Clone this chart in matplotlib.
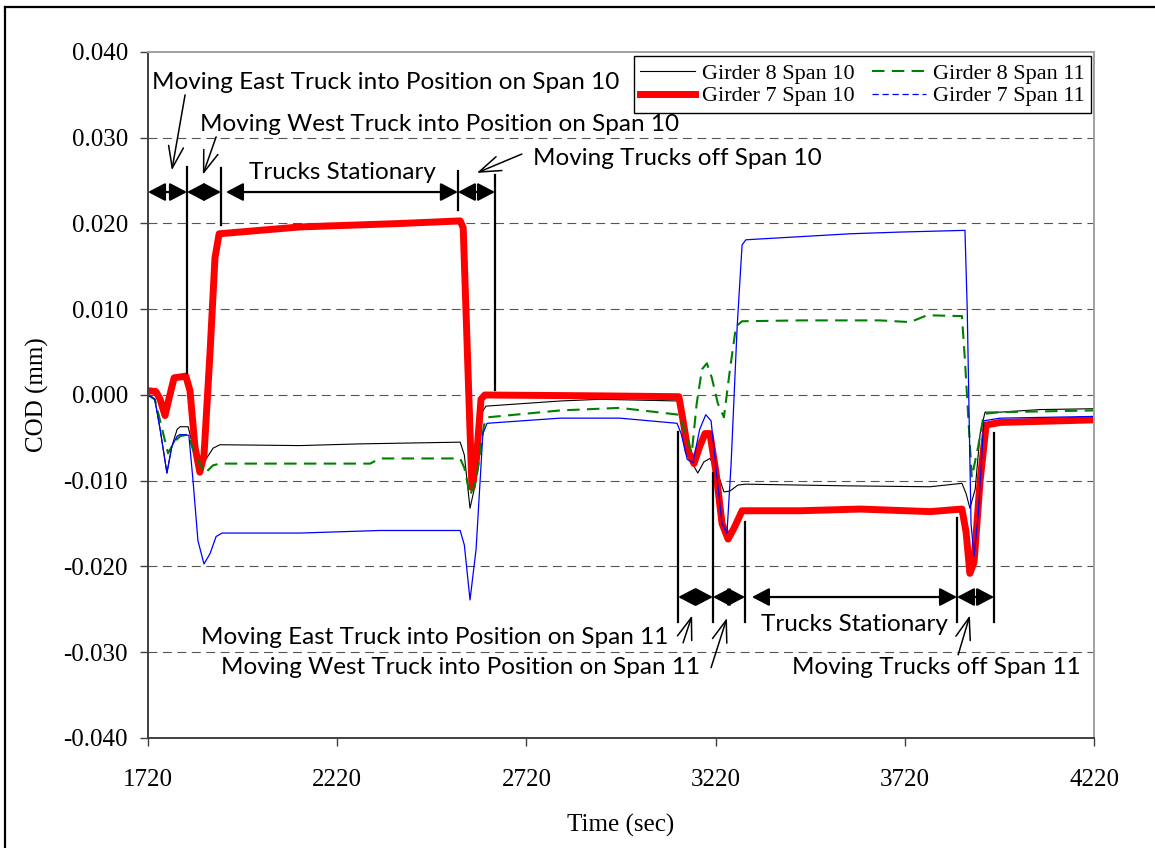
import matplotlib
matplotlib.use("Agg")
import matplotlib.pyplot as plt
from matplotlib.lines import Line2D

# ---------------- data ----------------
t_g7s10 = [1720, 1741, 1752, 1765, 1775, 1789, 1820, 1831, 1844, 1857, 1868, 1884, 1897, 1908,
           2122, 2386, 2545, 2553, 2564, 2576, 2587, 2600, 2610, 2915, 3123, 3134, 3147, 3163,
           3178, 3192, 3205, 3221, 3237, 3253, 3269, 3290, 3443, 3602, 3787, 3871, 3882, 3892,
           3903, 3919, 3935, 3972, 4220]
y_g7s10 = [0.0005, 0.0004, -0.0005, -0.0024, -0.0005, 0.0020, 0.0022, 0.0005, -0.0060, -0.0090,
           -0.0070, 0.0050, 0.0160, 0.0188, 0.0196, 0.0200, 0.0203, 0.0195, 0.0050, -0.0108,
           -0.0080, -0.0005, 0.0000, -0.0001, -0.0002, -0.0030, -0.0065, -0.0080, -0.0060,
           -0.0045, -0.0045, -0.0090, -0.0150, -0.0168, -0.0155, -0.0135, -0.0135, -0.0133,
           -0.0136, -0.0133, -0.0160, -0.0208, -0.0195, -0.0100, -0.0035, -0.0032, -0.0029]

t_g8s10 = [1720, 1738, 1752, 1770, 1783, 1797, 1805, 1826, 1836, 1850, 1860, 1873, 1892, 1910,
           2122, 2280, 2545, 2556, 2571, 2587, 2603, 2613, 2809, 2915, 3123, 3137, 3152, 3173,
           3189, 3205, 3221, 3242, 3258, 3279, 3300, 3575, 3787, 3871, 3882, 3892, 3906, 3919,
           3932, 3972, 4077, 4220]
y_g8s10 = [0.0001, -0.0005, -0.0040, -0.0091, -0.0060, -0.0040, -0.0037, -0.0037, -0.0055,
           -0.0082, -0.0088, -0.0075, -0.0062, -0.0058, -0.0059, -0.0057, -0.0055, -0.0070,
           -0.0132, -0.0100, -0.0020, -0.0013, -0.0007, -0.0005, -0.0007, -0.0030, -0.0075,
           -0.0091, -0.0078, -0.0074, -0.0085, -0.0113, -0.0112, -0.0105, -0.0104, -0.0106,
           -0.0107, -0.0103, -0.0115, -0.0132, -0.0110, -0.0045, -0.0020, -0.0020, -0.0017,
           -0.0016]

t_g8s11 = [1720, 1738, 1752, 1773, 1789, 1805, 1826, 1844, 1871, 1892, 1910, 2122, 2307, 2333,
           2545, 2556, 2571, 2587, 2608, 2618, 2809, 2967, 3123, 3137, 3157, 3170, 3184, 3197,
           3210, 3226, 3242, 3258, 3274, 3290, 3443, 3655, 3734, 3779, 3871, 3879, 3897, 3914,
           3929, 3972, 4220]
y_g8s11 = [0.0000, -0.0005, -0.0030, -0.0068, -0.0055, -0.0048, -0.0046, -0.0070, -0.0091,
           -0.0082, -0.0080, -0.0080, -0.0080, -0.0074, -0.0074, -0.0085, -0.0117, -0.0100,
           -0.0035, -0.0026, -0.0018, -0.0015, -0.0023, -0.0040, -0.0068, -0.0010, 0.0030,
           0.0037, 0.0020, -0.0010, -0.0026, 0.0030, 0.0080, 0.0086, 0.0087, 0.0087, 0.0085,
           0.0093, 0.0092, 0.0040, -0.0096, -0.0060, -0.0022, -0.0020, -0.0018]

t_g7s11 = [1720, 1738, 1752, 1770, 1783, 1797, 1805, 1828, 1839, 1852, 1868, 1884, 1900, 1916,
           2122, 2333, 2545, 2556, 2571, 2587, 2605, 2616, 2809, 2967, 3118, 3129, 3145, 3160,
           3178, 3194, 3208, 3221, 3237, 3250, 3261, 3277, 3290, 3300, 3575, 3707, 3879, 3885,
           3895, 3903, 3914, 3929, 3972, 4220]
y_g7s11 = [0.0000, -0.0005, -0.0040, -0.0091, -0.0060, -0.0048, -0.0046, -0.0047, -0.0100,
           -0.0170, -0.0197, -0.0185, -0.0165, -0.0161, -0.0161, -0.0158, -0.0158, -0.0175,
           -0.0239, -0.0180, -0.0045, -0.0033, -0.0027, -0.0027, -0.0033, -0.0045, -0.0075,
           -0.0079, -0.0040, -0.0023, -0.0030, -0.0085, -0.0150, -0.0161, -0.0080, 0.0080,
           0.0175, 0.0181, 0.0188, 0.0190, 0.0192, 0.0100, -0.0150, -0.0188, -0.0140, -0.0030,
           -0.0027, -0.0025]

labels = ["Girder 8 Span 10", "Girder 7 Span 10", "Girder 8 Span 11", "Girder 7 Span 11"]
x_ticks = [1720, 2220, 2720, 3220, 3720, 4220]
y_ticks = [-0.040, -0.030, -0.020, -0.010, 0.000, 0.010, 0.020, 0.030, 0.040]

# ---------------- figure ----------------
fig = plt.figure(figsize=(11.55, 8.48), dpi=100)
ax = fig.add_axes([148 / 1155, 1 - 738 / 848, (1094 - 148) / 1155, (738 - 52) / 848])

serif = "Liberation Serif"
sans = "Lato"

ax.plot(t_g8s10, y_g8s10, color="black", lw=0.8)
ax.plot(t_g7s10, y_g7s10, color="#ff0000", lw=5.0, solid_joinstyle="round")
ax.plot(t_g8s11, y_g8s11, color="#008000", lw=1.5, linestyle=(0, (6, 3.5)))
ax.plot(t_g7s11, y_g7s11, color="#0000ff", lw=0.9)

ax.set_xlim(x_ticks[0], x_ticks[-1])
ax.set_ylim(y_ticks[0], y_ticks[-1])
ax.set_xticks(x_ticks)
ax.set_yticks(y_ticks)
ax.set_xticklabels([str(v) for v in x_ticks], fontfamily=serif, fontsize=18)
ax.set_yticklabels(["%.3f" % v for v in y_ticks], fontfamily=serif, fontsize=18)
ax.tick_params(axis="both", direction="out", length=5.5, width=1.0, color="#404040")
ax.tick_params(axis="y", pad=9)
ax.tick_params(axis="x", pad=17)

for yv in y_ticks[1:-1]:
    ax.axhline(yv, color="#555555", lw=0.8, linestyle=(0, (8, 5)), zorder=0.5)

for s in ["left", "bottom"]:
    ax.spines[s].set_color("#404040")
    ax.spines[s].set_linewidth(1.4)
for s in ["top", "right"]:
    ax.spines[s].set_color("#a0a0a0")
    ax.spines[s].set_linewidth(1.4)

ax.set_xlabel("Time (sec)", fontfamily=serif, fontsize=18, labelpad=16)
ax.set_ylabel("COD (mm)", fontfamily=serif, fontsize=18, labelpad=10)

# legend
handles = [
    Line2D([], [], color="black", lw=0.8),
    Line2D([], [], color="#ff0000", lw=5.0),
    Line2D([], [], color="#008000", lw=1.5, linestyle=(0, (6, 3.5))),
    Line2D([], [], color="#0000ff", lw=0.9, linestyle=(0, (5, 3))),
]
leg = ax.legend(handles, labels, ncol=2, loc="upper right", bbox_to_anchor=(1.002, 1.0),
                prop={"family": serif, "size": 16}, frameon=True, fancybox=False,
                edgecolor="black", framealpha=1, handlelength=2.45, handletextpad=0.3,
                columnspacing=0.8, labelspacing=0.1, borderpad=0.3, borderaxespad=0.2)
leg.get_frame().set_linewidth(1.0)

# ---------------- annotations ----------------
def dbl(x0, x1, y):
    ax.annotate("", xy=(x1, y), xytext=(x0, y),
                arrowprops=dict(arrowstyle="<|-|>,head_length=0.42,head_width=0.22",
                                mutation_scale=25, lw=1.6, color="black",
                                shrinkA=0, shrinkB=0), zorder=6)

def vline(x, y0, y1):
    ax.plot([x, x], [y0, y1], color="black", lw=1.6, zorder=6)

def pointer(tail, tip):
    ax.annotate("", xy=tip, xytext=tail,
                arrowprops=dict(arrowstyle="->,head_length=1.3,head_width=0.45",
                                mutation_scale=12, lw=1.1, color="black",
                                shrinkA=0, shrinkB=0), zorder=6)

def txt(x, y, s, ha):
    ax.text(x, y, s, ha=ha, va="center", fontfamily=sans, fontsize=17.5, zorder=7)

# Span 10 events
ya = 0.02367
vline(1823, 0.0266, 0.0026)
vline(1913, 0.0265, 0.0198)
vline(2539, 0.0261, 0.0216)
vline(2637, 0.0257, 0.0006)
dbl(1720, 1823, ya)
dbl(1823, 1913, ya)
dbl(1926, 2539, ya)
dbl(2539, 2637, ya)
txt(1731, 0.0364, "Moving East Truck into Position on Span 10", "left")
txt(1857, 0.0315, "Moving West Truck into Position on Span 10", "left")
txt(2233, 0.0260, "Trucks Stationary", "center")
txt(2737, 0.0276, "Moving Trucks off Span 10", "left")
pointer((1818, 0.0350), (1783, 0.0262))
pointer((1900, 0.0301), (1865, 0.0257))
pointer((2708, 0.0281), (2589, 0.0259))

# Span 11 events
yb = -0.02356
ybot = -0.02647
vline(3121, -0.0043, ybot)
vline(3213, -0.0091, ybot)
vline(3298, -0.0148, ybot)
vline(3858, -0.0143, ybot)
vline(3956, -0.0044, ybot)
dbl(3121, 3213, yb)
dbl(3213, 3298, yb)
dbl(3316, 3858, yb)
dbl(3858, 3956, yb)
txt(3586, -0.0268, "Trucks Stationary", "center")
txt(3094, -0.0283, "Moving East Truck into Position on Span 11", "right")
txt(3179, -0.0318, "Moving West Truck into Position on Span 11", "right")
txt(3422, -0.0318, "Moving Trucks off Span 11", "left")
pointer((3134, -0.0289), (3158, -0.0257))
pointer((3208, -0.0318), (3250, -0.0260))
pointer((3861, -0.0303), (3892, -0.0257))

# outer frame (top and left edges visible)
fig.add_artist(Line2D([5 / 1155, 5 / 1155], [0, 1 - 7 / 848], color="black", lw=1.6,
                      transform=fig.transFigure))
fig.add_artist(Line2D([5 / 1155, 1], [1 - 7 / 848, 1 - 7 / 848], color="black", lw=1.6,
                      transform=fig.transFigure))

fig.savefig("out.png", dpi=100)
